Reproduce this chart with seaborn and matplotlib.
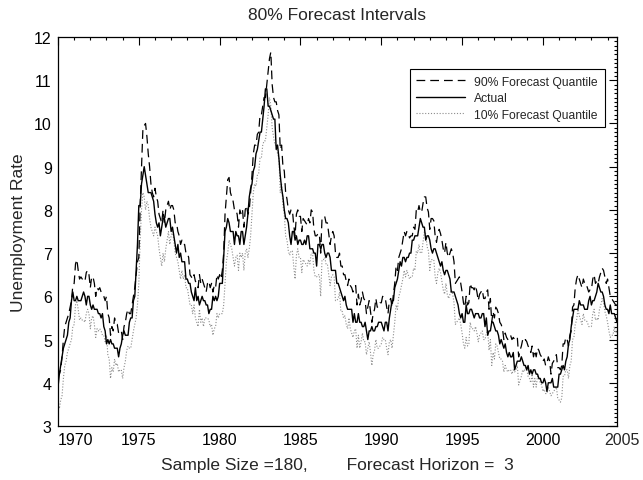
import pandas as pd
import seaborn as sns
import matplotlib.pyplot as plt
from matplotlib.ticker import MultipleLocator

# monthly unemployment rate, Jan 1970 - Aug 2004 (one row per year)
actual = [
    3.9, 4.2, 4.4, 4.6, 4.8, 4.9, 5.0, 5.1, 5.4, 5.5, 5.9, 6.1,
    5.9, 5.9, 6.0, 5.9, 5.9, 5.9, 6.0, 6.1, 6.0, 5.8, 6.0, 6.0,
    5.8, 5.7, 5.8, 5.7, 5.7, 5.7, 5.6, 5.6, 5.5, 5.6, 5.3, 5.2,
    4.9, 5.0, 4.9, 5.0, 4.9, 4.9, 4.8, 4.8, 4.8, 4.6, 4.8, 4.9,
    5.1, 5.2, 5.1, 5.1, 5.1, 5.4, 5.5, 5.5, 5.9, 6.0, 6.6, 7.2,
    8.1, 8.1, 8.6, 8.8, 9.0, 8.8, 8.6, 8.4, 8.4, 8.4, 8.3, 8.2,
    7.9, 7.7, 7.6, 7.7, 7.4, 7.6, 7.8, 7.8, 7.6, 7.7, 7.8, 7.8,
    7.5, 7.6, 7.4, 7.2, 7.0, 7.2, 6.9, 7.0, 6.8, 6.8, 6.8, 6.4,
    6.4, 6.3, 6.3, 6.1, 6.0, 5.9, 6.2, 5.9, 6.0, 5.8, 5.9, 6.0,
    5.9, 5.9, 5.8, 5.8, 5.6, 5.7, 5.7, 6.0, 5.9, 6.0, 5.9, 6.0,
    6.3, 6.3, 6.3, 6.9, 7.5, 7.6, 7.8, 7.7, 7.5, 7.5, 7.5, 7.2,
    7.5, 7.4, 7.4, 7.2, 7.5, 7.5, 7.2, 7.4, 7.6, 7.9, 8.3, 8.5,
    8.6, 8.9, 9.0, 9.3, 9.4, 9.6, 9.8, 9.8, 10.1, 10.4, 10.8, 10.8,
    10.4, 10.4, 10.3, 10.2, 10.1, 10.1, 9.4, 9.5, 9.2, 8.8, 8.5, 8.3,
    8.0, 7.8, 7.8, 7.7, 7.4, 7.2, 7.5, 7.5, 7.3, 7.4, 7.2, 7.3,
    7.3, 7.2, 7.2, 7.3, 7.2, 7.4, 7.4, 7.1, 7.1, 7.1, 7.0, 7.0,
    6.7, 7.2, 7.2, 7.1, 7.2, 7.2, 7.0, 6.9, 7.0, 7.0, 6.9, 6.6,
    6.6, 6.6, 6.6, 6.3, 6.3, 6.2, 6.1, 6.0, 5.9, 6.0, 5.8, 5.7,
    5.7, 5.7, 5.7, 5.4, 5.6, 5.4, 5.4, 5.6, 5.4, 5.4, 5.3, 5.3,
    5.4, 5.2, 5.0, 5.2, 5.2, 5.3, 5.2, 5.2, 5.3, 5.3, 5.4, 5.4,
    5.4, 5.3, 5.2, 5.4, 5.4, 5.2, 5.5, 5.7, 5.9, 5.9, 6.2, 6.3,
    6.4, 6.6, 6.8, 6.7, 6.9, 6.9, 6.8, 6.9, 6.9, 7.0, 7.0, 7.3,
    7.3, 7.4, 7.4, 7.4, 7.6, 7.8, 7.7, 7.6, 7.6, 7.3, 7.4, 7.4,
    7.3, 7.1, 7.0, 7.1, 7.1, 7.0, 6.9, 6.8, 6.7, 6.8, 6.6, 6.5,
    6.6, 6.6, 6.5, 6.4, 6.1, 6.1, 6.1, 6.0, 5.9, 5.8, 5.6, 5.5,
    5.6, 5.4, 5.4, 5.8, 5.6, 5.6, 5.7, 5.7, 5.6, 5.5, 5.6, 5.6,
    5.6, 5.5, 5.5, 5.6, 5.6, 5.3, 5.5, 5.1, 5.2, 5.2, 5.4, 5.4,
    5.3, 5.2, 5.2, 5.1, 4.9, 5.0, 4.9, 4.8, 4.9, 4.7, 4.6, 4.7,
    4.6, 4.6, 4.7, 4.3, 4.4, 4.5, 4.5, 4.5, 4.6, 4.5, 4.4, 4.4,
    4.3, 4.4, 4.2, 4.3, 4.2, 4.3, 4.3, 4.2, 4.2, 4.1, 4.1, 4.0,
    4.0, 4.1, 4.0, 3.8, 4.0, 4.0, 4.0, 4.1, 3.9, 3.9, 3.9, 3.9,
    4.2, 4.2, 4.3, 4.4, 4.3, 4.5, 4.6, 4.9, 5.0, 5.3, 5.5, 5.7,
    5.7, 5.7, 5.7, 5.9, 5.8, 5.8, 5.8, 5.7, 5.7, 5.7, 5.9, 6.0,
    5.8, 5.9, 5.9, 6.0, 6.1, 6.3, 6.2, 6.1, 6.1, 6.0, 5.8, 5.7,
    5.7, 5.6, 5.8, 5.6, 5.6, 5.6, 5.5, 5.4,
]

upper_90 = [
    4.3, 4.2, 4.3, 4.6, 5.0, 5.3, 5.4, 5.5, 5.6, 5.75, 5.9, 6.25,
    6.3, 6.75, 6.85, 6.6, 6.4, 6.45, 6.4, 6.4, 6.35, 6.55, 6.6, 6.5,
    6.2, 6.45, 6.45, 6.3, 6.0, 6.2, 6.15, 6.2, 6.1, 6.05, 6.0, 5.9,
    6.0, 5.6, 5.5, 5.1, 5.3, 5.2, 5.5, 5.35, 5.35, 5.15, 5.2, 5.2,
    5.0, 5.3, 5.4, 5.6, 5.7, 5.6, 5.6, 5.8, 6.0, 6.2, 6.5, 6.8,
    6.9, 8.1, 9.0, 9.85, 9.95, 10.0, 9.7, 9.3, 9.0, 8.6, 8.4, 8.3,
    8.5, 8.3, 8.2, 7.9, 7.8, 7.7, 8.0, 7.7, 8.0, 8.1, 8.2, 8.0,
    8.1, 8.1, 8.0, 7.7, 7.7, 7.5, 7.4, 7.2, 7.3, 7.2, 7.2, 7.0,
    7.0, 6.9, 6.5, 6.45, 6.4, 6.5, 6.35, 6.3, 6.2, 6.5, 6.3, 6.4,
    6.3, 6.2, 6.1, 6.3, 6.35, 6.2, 6.3, 6.1, 6.25, 6.2, 6.5, 6.4,
    6.5, 6.4, 6.6, 7.0, 7.9, 8.3, 8.7, 8.75, 8.4, 8.3, 8.2, 8.0,
    8.0, 7.9, 7.6, 8.0, 7.9, 8.0, 7.6, 8.0, 8.1, 7.9, 8.0, 8.4,
    8.8, 9.3, 9.5, 9.5, 9.75, 9.8, 10.2, 10.2, 10.4, 10.6, 10.6, 10.9,
    11.2, 11.5, 11.65, 10.9, 10.6, 10.5, 10.5, 10.3, 10.2, 9.4, 9.5, 9.0,
    8.9, 8.4, 8.25, 8.0, 7.9, 8.0, 8.0, 7.65, 7.4, 7.9, 8.0, 7.85,
    7.85, 7.5, 7.8, 7.75, 7.7, 7.65, 7.8, 7.7, 8.0, 7.95, 7.55, 7.4,
    7.4, 7.45, 7.45, 7.0, 7.8, 7.8, 7.85, 7.7, 7.7, 7.45, 7.2, 7.4,
    7.5, 7.4, 7.0, 6.9, 6.9, 7.0, 6.7, 6.7, 6.5, 6.5, 6.35, 6.25,
    6.4, 6.25, 6.2, 6.1, 6.2, 6.25, 5.8, 6.05, 5.8, 5.9, 6.1, 5.95,
    5.9, 5.6, 5.75, 5.9, 5.65, 5.4, 5.6, 5.7, 5.95, 5.75, 5.75, 5.85,
    5.85, 6.0, 5.95, 5.95, 5.75, 5.6, 5.9, 5.95, 5.75, 6.05, 6.3, 6.7,
    6.6, 6.9, 7.0, 7.1, 7.3, 7.5, 7.4, 7.5, 7.45, 7.35, 7.4, 7.4,
    7.6, 7.55, 8.0, 7.95, 8.1, 7.95, 7.95, 8.15, 8.3, 8.3, 8.05, 7.95,
    7.55, 7.8, 7.8, 7.75, 7.4, 7.25, 7.45, 7.55, 7.45, 7.3, 7.1, 7.0,
    7.25, 7.0, 6.9, 7.0, 7.1, 7.0, 6.8, 6.3, 6.35, 6.4, 6.45, 6.3,
    6.1, 5.85, 5.75, 6.0, 5.8, 5.85, 6.3, 6.2, 6.2, 6.15, 6.25, 6.1,
    5.9, 6.05, 6.1, 6.15, 5.95, 5.95, 6.1, 6.15, 5.7, 5.95, 5.4, 5.65,
    5.5, 5.75, 5.7, 5.6, 5.4, 5.35, 5.25, 5.0, 5.15, 5.05, 5.0, 5.05,
    5.1, 5.0, 5.05, 5.0, 5.0, 5.05, 4.6, 4.75, 4.85, 5.0, 4.95, 5.0,
    4.95, 4.85, 4.8, 4.7, 4.85, 4.6, 4.75, 4.6, 4.8, 4.75, 4.65, 4.6,
    4.5, 4.55, 4.4, 4.45, 4.6, 4.5, 4.2, 4.45, 4.5, 4.6, 4.65, 4.35,
    4.35, 4.3, 4.4, 4.9, 4.9, 5.05, 5.0, 4.85, 5.1, 5.2, 5.75, 5.8,
    6.2, 6.4, 6.5, 6.4, 6.3, 6.2, 6.4, 6.3, 6.3, 6.2, 6.1, 6.15,
    6.15, 6.4, 6.5, 6.3, 6.35, 6.3, 6.45, 6.55, 6.65, 6.6, 6.45, 6.3,
    6.4, 6.2, 6.0, 5.95, 5.9, 5.85, 5.8, 5.8,
]

lower_10 = [
    3.5, 3.4, 3.6, 3.7, 4.1, 4.4, 4.5, 4.7, 4.8, 4.9, 5.0, 5.3,
    5.35, 5.8, 5.9, 5.7, 5.45, 5.5, 5.45, 5.45, 5.4, 5.6, 5.7, 5.6,
    5.25, 5.5, 5.55, 5.35, 5.05, 5.25, 5.2, 5.25, 5.2, 5.1, 5.1, 4.95,
    5.1, 4.65, 4.55, 4.1, 4.35, 4.25, 4.55, 4.4, 4.45, 4.25, 4.3, 4.3,
    4.1, 4.35, 4.5, 4.75, 4.85, 4.8, 4.8, 5.0, 5.2, 5.35, 5.5, 5.8,
    6.3, 7.3, 8.0, 8.4, 8.3, 8.0, 8.2, 8.1, 7.8, 7.6, 7.5, 7.4,
    7.6, 7.5, 7.4, 7.1, 6.9, 6.7, 7.0, 6.8, 7.1, 7.3, 7.5, 7.2,
    7.4, 7.5, 7.3, 7.0, 6.9, 6.8, 6.6, 6.4, 6.6, 6.4, 6.5, 6.2,
    6.2, 6.0, 5.8, 5.8, 5.6, 5.8, 5.5, 5.4, 5.3, 5.7, 5.4, 5.5,
    5.3, 5.5, 5.5, 5.5, 5.45, 5.3, 5.35, 5.1, 5.25, 5.3, 5.6, 5.5,
    5.6, 5.6, 5.6, 5.8, 6.3, 6.8, 7.0, 7.3, 7.2, 7.1, 6.9, 6.7,
    6.9, 6.95, 6.6, 7.0, 6.9, 7.0, 6.6, 7.0, 7.1, 6.9, 7.1, 7.4,
    7.9, 8.4, 8.6, 8.55, 8.8, 8.85, 9.2, 9.2, 9.5, 9.6, 9.6, 9.9,
    10.2, 10.6, 10.4, 9.9, 9.7, 9.5, 9.5, 9.3, 9.2, 8.4, 8.6, 8.1,
    7.9, 7.4, 7.3, 7.05, 6.95, 7.05, 7.05, 6.7, 6.4, 6.95, 7.1, 6.9,
    6.9, 6.55, 6.85, 6.8, 6.75, 6.7, 6.85, 6.75, 7.0, 7.0, 6.6, 6.45,
    6.45, 6.5, 6.5, 6.0, 6.85, 6.85, 6.9, 6.75, 6.75, 6.5, 6.25, 6.45,
    6.5, 6.45, 5.9, 5.9, 5.95, 6.1, 5.65, 5.65, 5.5, 5.55, 5.35, 5.25,
    5.5, 5.25, 5.15, 5.05, 5.2, 5.25, 4.8, 5.1, 4.8, 4.95, 5.15, 4.95,
    4.95, 4.65, 4.8, 4.95, 4.7, 4.4, 4.65, 4.75, 5.0, 4.8, 4.8, 4.85,
    4.9, 5.05, 5.0, 5.0, 4.8, 4.65, 4.95, 5.0, 4.8, 5.1, 5.4, 5.8,
    5.7, 6.0, 6.1, 6.25, 6.4, 6.6, 6.45, 6.6, 6.5, 6.4, 6.45, 6.45,
    6.65, 6.6, 7.05, 7.0, 7.2, 7.0, 7.0, 7.25, 7.5, 7.45, 7.15, 7.05,
    6.6, 6.85, 6.85, 6.85, 6.45, 6.3, 6.55, 6.65, 6.55, 6.35, 6.15, 6.05,
    6.3, 6.05, 5.95, 6.05, 6.15, 6.05, 5.85, 5.35, 5.4, 5.45, 5.5, 5.35,
    5.15, 4.9, 4.8, 5.05, 4.85, 4.9, 5.4, 5.25, 5.25, 5.2, 5.3, 5.15,
    4.95, 5.1, 5.15, 5.2, 5.0, 5.0, 5.15, 5.2, 4.75, 5.0, 4.4, 4.7,
    4.55, 4.9, 4.85, 4.7, 4.55, 4.55, 4.5, 4.25, 4.4, 4.3, 4.25, 4.3,
    4.3, 4.2, 4.3, 4.25, 4.3, 4.4, 3.95, 4.05, 4.15, 4.3, 4.25, 4.35,
    4.3, 4.15, 4.1, 4.0, 4.2, 3.9, 4.1, 3.9, 4.15, 4.1, 4.0, 3.95,
    3.8, 3.85, 3.75, 3.75, 3.9, 3.8, 3.7, 3.75, 3.8, 3.85, 3.9, 3.65,
    3.6, 3.55, 3.65, 4.15, 4.15, 4.3, 4.3, 4.1, 4.4, 4.5, 5.0, 5.05,
    5.35, 5.45, 5.7, 5.55, 5.45, 5.35, 5.6, 5.45, 5.45, 5.4, 5.3, 5.3,
    5.3, 5.6, 5.7, 5.45, 5.5, 5.45, 5.7, 5.8, 5.95, 5.85, 5.65, 5.55,
    5.4, 5.2, 5.05, 5.1, 5.1, 5.3, 5.15, 5.2,
]

x_years = [1970, 1975, 1980, 1985, 1990, 1995, 2000]

dates = pd.date_range('1970-01-01', periods=len(actual), freq='MS')
t = dates.year + (dates.month - 1) / 12.0
df = pd.DataFrame({'t': t, 'actual': actual, 'upper': upper_90, 'lower': lower_10})

sns.set_style('white')
plt.rcParams['font.family'] = ['Liberation Sans', 'DejaVu Sans']

fig, ax = plt.subplots(figsize=(6.43, 4.81), dpi=100)
fig.subplots_adjust(left=58 / 643, right=617 / 643, bottom=1 - 427 / 481, top=1 - 38 / 481)

sns.lineplot(data=df, x='t', y='lower', ax=ax, color='#8c8c8c', lw=0.8,
             linestyle=(0, (1, 1.6)), estimator=None, label='10% Forecast Quantile')
sns.lineplot(data=df, x='t', y='upper', ax=ax, color='black', lw=0.9,
             linestyle=(0, (7, 4)), estimator=None, label='90% Forecast Quantile')
sns.lineplot(data=df, x='t', y='actual', ax=ax, color='black', lw=1.0,
             estimator=None, label='Actual')

ax.set_xlim(t[0], t[-1])
ax.set_ylim(3, 12)

# IDL-like axes: ticks inside on all four sides
ax.set_xticks(x_years)
ax.set_xticklabels([str(y) for y in x_years])
ax.xaxis.set_minor_locator(MultipleLocator(1))
ax.yaxis.set_major_locator(MultipleLocator(1))
ax.yaxis.set_minor_locator(MultipleLocator(0.1))
ax.tick_params(which='both', direction='in', top=True, right=True, colors='black',
               labelsize=11.5, width=0.8, pad=4.5)
ax.tick_params(which='major', length=5.5)
ax.tick_params(which='minor', length=2.5)
ax.get_xticklabels()[0].set_horizontalalignment('left')
ax.annotate('2005', xy=(2005, 0), xycoords=ax.get_xaxis_transform(), xytext=(-1.5, -4.5),
            textcoords='offset points', ha='center', va='top', fontsize=11.5,
            annotation_clip=False)
for s in ax.spines.values():
    s.set_color('black')
    s.set_linewidth(0.9)

ax.set_title('80% Forecast Intervals', fontsize=12.5, pad=13)
ax.set_xlabel('Sample Size =180,        Forecast Horizon =  3', fontsize=12.5, labelpad=7)
ax.set_ylabel('Unemployment Rate', fontsize=12.5, labelpad=6)

handles, labels = ax.get_legend_handles_labels()
order = [1, 2, 0]
leg = ax.legend([handles[i] for i in order], [labels[i] for i in order],
                loc='upper right', bbox_to_anchor=(0.978, 0.918), borderaxespad=0,
                fontsize=8.7, handlelength=4.0, handletextpad=0.8, borderpad=0.55,
                labelspacing=0.38, fancybox=False, framealpha=1, edgecolor='black')
leg.get_frame().set_linewidth(0.8)

fig.savefig('out.png', dpi=100)
